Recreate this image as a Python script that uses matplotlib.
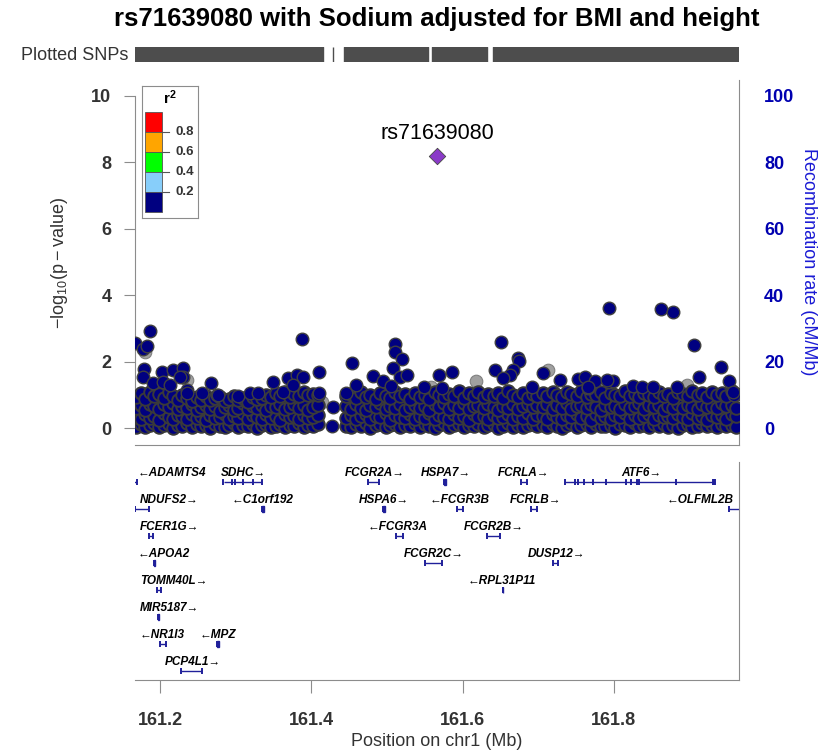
import matplotlib
matplotlib.use('Agg')
import matplotlib.pyplot as plt
from matplotlib.patches import Rectangle

plt.rcParams['font.family'] = ['Liberation Sans', 'DejaVu Sans']
plt.rcParams['mathtext.fontset'] = 'custom'
plt.rcParams['mathtext.rm'] = 'Liberation Sans'
plt.rcParams['mathtext.bf'] = 'Liberation Sans:bold'

# ---------------- data ----------------
title = 'rs71639080 with Sodium adjusted for BMI and height'
lead_name = 'rs71639080'
lead_pos = 161.566
lead_logp = 8.19

# dense band of SNPs (positions in Mb, several -log10 p per column)
band_pos = [161.168, 161.174, 161.180, 161.186, 161.192, 161.198, 161.205, 161.211, 161.217, 161.223,
            161.229, 161.235, 161.242, 161.248, 161.254, 161.260, 161.266, 161.272, 161.279, 161.285,
            161.291, 161.297, 161.303, 161.309, 161.316, 161.322, 161.328, 161.334, 161.340, 161.346,
            161.353, 161.359, 161.365, 161.371, 161.377, 161.383, 161.390, 161.396, 161.402, 161.408,
            161.446, 161.452, 161.459, 161.465, 161.472, 161.478, 161.485, 161.491, 161.498, 161.504,
            161.511, 161.517, 161.524, 161.530, 161.537, 161.543, 161.550, 161.556, 161.563, 161.569,
            161.576, 161.582, 161.589, 161.595, 161.602, 161.608, 161.615, 161.621, 161.628, 161.634,
            161.641, 161.647, 161.654, 161.660, 161.667, 161.673, 161.680, 161.686, 161.693, 161.699,
            161.706, 161.712, 161.719, 161.725, 161.732, 161.738, 161.744, 161.751, 161.757, 161.764,
            161.770, 161.776, 161.783, 161.789, 161.796, 161.802, 161.808, 161.815, 161.821, 161.828,
            161.834, 161.840, 161.847, 161.853, 161.860, 161.866, 161.872, 161.879, 161.885, 161.892,
            161.898, 161.904, 161.911, 161.917, 161.924, 161.930, 161.936, 161.943, 161.949, 161.956,
            161.962]
band_low = [0.05, 0.12, 0.03, 0.10, 0.16, 0.04, 0.09, 0.14, 0.02, 0.11, 0.07, 0.15, 0.03, 0.12, 0.06,
            0.10, 0.02, 0.13, 0.08, 0.04, 0.11, 0.15, 0.03, 0.09, 0.06, 0.12, 0.02, 0.10, 0.14, 0.05,
            0.08, 0.13, 0.03, 0.11, 0.07, 0.16, 0.04, 0.10, 0.06, 0.12,
            0.08, 0.03, 0.12, 0.06, 0.15, 0.02, 0.10, 0.13, 0.05, 0.09, 0.14, 0.03, 0.11, 0.07, 0.16,
            0.04, 0.12, 0.08, 0.02, 0.10, 0.15, 0.05, 0.09, 0.13, 0.03, 0.11, 0.06, 0.14, 0.04, 0.10,
            0.12, 0.02, 0.08, 0.15, 0.05, 0.11, 0.03, 0.09, 0.13, 0.06,
            0.10, 0.04, 0.13, 0.07, 0.02, 0.11, 0.15, 0.05, 0.09, 0.12, 0.03, 0.14, 0.08, 0.06, 0.11,
            0.02, 0.13, 0.09, 0.04, 0.15, 0.07, 0.10, 0.03, 0.12, 0.06, 0.14, 0.05, 0.09, 0.02, 0.11,
            0.13, 0.04, 0.08, 0.15, 0.06, 0.10, 0.03, 0.12, 0.07, 0.09, 0.05]
band_mid = [0.35, 0.28, 0.42, 0.31, 0.38, 0.26, 0.45, 0.33, 0.29, 0.40, 0.36, 0.27, 0.44, 0.32, 0.38,
            0.25, 0.41, 0.30, 0.35, 0.43, 0.28, 0.37, 0.32, 0.46, 0.27, 0.39, 0.34, 0.29, 0.42, 0.31,
            0.36, 0.26, 0.44, 0.33, 0.38, 0.28, 0.41, 0.30, 0.35, 0.39,
            0.32, 0.40, 0.27, 0.36, 0.44, 0.29, 0.38, 0.33, 0.45, 0.26, 0.41, 0.35, 0.30, 0.43, 0.28,
            0.37, 0.32, 0.46, 0.27, 0.39, 0.34, 0.29, 0.42, 0.31, 0.36, 0.26, 0.44, 0.33, 0.38, 0.28,
            0.41, 0.30, 0.35, 0.43, 0.29, 0.37, 0.32, 0.45, 0.27, 0.40,
            0.36, 0.29, 0.42, 0.33, 0.27, 0.40, 0.35, 0.44, 0.30, 0.38, 0.26, 0.43, 0.32, 0.37, 0.28,
            0.41, 0.34, 0.46, 0.29, 0.39, 0.31, 0.36, 0.44, 0.27, 0.40, 0.33, 0.38, 0.30, 0.42, 0.35,
            0.28, 0.45, 0.32, 0.37, 0.26, 0.41, 0.34, 0.39, 0.29, 0.43, 0.36]
band_high = [0.62, 0.70, 0.55, 0.74, 0.66, 0.58, 0.72, 0.63, 0.76, 0.57, 0.68, 0.60, 0.73, 0.54, 0.65,
             0.71, 0.59, 0.67, 0.53, 0.64, 0.69, 0.56, 0.62, 0.75, 0.58, 0.66, 0.61, 0.70, 0.55, 0.68,
             0.63, 0.72, 0.57, 0.65, 0.74, 0.60, 0.69, 0.56, 0.64, 0.71,
             0.66, 0.58, 0.73, 0.62, 0.55, 0.70, 0.64, 0.77, 0.59, 0.68, 0.61, 0.74, 0.56, 0.65, 0.71,
             0.60, 0.67, 0.54, 0.72, 0.63, 0.76, 0.58, 0.69, 0.62, 0.75, 0.57, 0.66, 0.70, 0.60, 0.73,
             0.64, 0.56, 0.68, 0.61, 0.74, 0.59, 0.67, 0.72, 0.63, 0.70,
             0.64, 0.72, 0.58, 0.69, 0.62, 0.76, 0.57, 0.67, 0.71, 0.60, 0.74, 0.65, 0.55, 0.70, 0.63,
             0.68, 0.59, 0.73, 0.61, 0.66, 0.75, 0.58, 0.69, 0.64, 0.71, 0.56, 0.67, 0.62, 0.74, 0.60,
             0.70, 0.65, 0.57, 0.72, 0.63, 0.68, 0.61, 0.75, 0.66, 0.70, 0.62]
band_top = [0.95, 1.05, 0.88, 1.10, 0.98, 1.02, 0.92, 1.08, 0.96, 0.85, 1.00, 0.90, 0.82, 0.93, 0.86,
            0.98, 0.84, 0.90, 0.95, 0.83, 0.88, 0.97, 0.85, 0.92, 0.80, 0.94, 0.87, 0.91, 1.00, 0.95,
            1.05, 0.98, 1.08, 0.93, 1.02, 0.97, 1.10, 0.99, 1.04, 1.00,
            0.97, 1.04, 0.90, 1.08, 0.95, 1.00, 0.88, 1.06, 0.98, 0.92, 1.10, 0.96, 1.02, 0.89, 1.05,
            0.94, 1.00, 0.87, 1.08, 0.99, 0.93, 1.03, 0.96, 1.12, 0.91, 1.05, 0.98, 1.09, 0.94, 1.02,
            0.97, 1.07, 0.90, 1.11, 1.00, 0.95, 1.06, 0.92, 1.03, 0.98,
            1.05, 0.96, 1.10, 1.00, 0.93, 1.08, 1.02, 0.97, 1.12, 0.95, 1.04, 0.99, 1.09, 0.92, 1.06,
            1.01, 0.96, 1.13, 0.98, 1.03, 0.94, 1.07, 1.00, 0.95, 1.10, 0.97, 1.04, 0.91, 1.08, 1.02,
            0.96, 1.11, 0.99, 1.05, 0.93, 1.09, 1.00, 1.06, 0.97, 1.12, 1.03]

# SNPs standing out above the band (r2 < 0.2)
upper_pos = [161.167, 161.1864, 161.1767, 161.182, 161.1784, 161.1775, 161.2019, 161.2172, 161.2296,
             161.230, 161.2667, 161.2746, 161.3871, 161.3491, 161.369, 161.3805, 161.3884, 161.4104,
             161.4104, 161.4289, 161.4268, 161.4532, 161.4457, 161.4589, 161.5107, 161.5107, 161.5194,
             161.5083, 161.5172, 161.5268, 161.4818, 161.4943, 161.5048, 161.5489, 161.5691, 161.5856,
             161.5723, 161.7931, 161.8621, 161.8788, 161.9061, 161.6508, 161.9415, 161.6737, 161.6746,
             161.6429, 161.6671, 161.7068, 161.9132, 161.9529, 161.7289, 161.7531, 161.7619, 161.7752,
             161.7941, 161.7994, 161.8258, 161.8369, 161.8523, 161.8833, 161.7655, 161.9595,
             161.1907, 161.204, 161.2128, 161.2258, 161.2349, 161.2349, 161.2548, 161.2767, 161.3032,
             161.3187, 161.3297, 161.362, 161.376, 161.6627, 161.6538, 161.6914, 161.7663, 161.7906,
             161.9581]
upper_logp = [2.56, 2.92, 2.40, 2.47, 1.77, 1.55, 1.68, 1.75, 1.80,
              1.55, 1.37, 1.00, 2.70, 1.40, 1.51, 1.60, 1.55, 1.70,
              1.05, 0.65, 0.08, 1.97, 1.07, 1.29, 2.53, 2.30, 2.07,
              1.80, 1.55, 1.60, 1.58, 1.43, 1.27, 1.25, 1.60, 1.70,
              1.20, 3.63, 3.59, 3.50, 2.50, 2.60, 1.83, 2.10, 2.02,
              1.75, 1.75, 1.65, 1.53, 1.43, 1.45, 1.47, 1.53, 1.42,
              1.40, 1.43, 1.27, 1.23, 1.23, 1.25, 1.22, 1.00,
              1.35, 1.40, 1.30, 1.55, 1.15, 1.05, 1.05, 1.00, 0.97,
              1.05, 1.05, 1.10, 1.30, 1.60, 1.50, 1.25, 1.25, 1.45,
              1.10]

# SNPs with no r2 information (grey)
gray_pos = [161.180, 161.2349, 161.4135, 161.5578, 161.6177, 161.5515, 161.7126, 161.8965, 161.7906, 161.3319]
gray_logp = [2.30, 1.45, 0.80, 1.23, 1.42, 0.60, 1.75, 1.30, 0.75, 0.30]

# stretches covered by the "Plotted SNPs" bar
snp_bar_start = [161.1665, 161.4280, 161.4430, 161.5595, 161.6402]
snp_bar_end = [161.4155, 161.4290, 161.5542, 161.6323, 161.9657]

# r2 legend
r2_colors = ['#FF0000', '#FFA500', '#00FF00', '#87CEFA', '#000080']
r2_breaks = ['0.8', '0.6', '0.4', '0.2']

# genes
gene_names = ['ADAMTS4', 'SDHC', 'FCGR2A', 'HSPA7', 'FCRLA', 'ATF6',
              'NDUFS2', 'C1orf192', 'HSPA6', 'FCGR3B', 'FCRLB', 'OLFML2B',
              'FCER1G', 'FCGR3A', 'FCGR2B',
              'APOA2', 'FCGR2C', 'DUSP12',
              'TOMM40L', 'RPL31P11',
              'MIR5187',
              'NR1I3', 'MPZ',
              'PCP4L1']
gene_start = [161.154, 161.284, 161.475, 161.576, 161.677, 161.736,
              161.167, 161.334, 161.494, 161.593, 161.691, 161.953,
              161.185, 161.5115, 161.632,
              161.192, 161.5505, 161.719,
              161.1958, 161.6528,
              161.1975,
              161.1993, 161.2745,
              161.2275]
gene_end = [161.1685, 161.334, 161.4895, 161.578, 161.685, 161.934,
            161.185, 161.337, 161.4967, 161.6008, 161.698, 161.993,
            161.1905, 161.5205, 161.6495,
            161.1934, 161.5725, 161.7262,
            161.2011, 161.6538,
            161.1982,
            161.208, 161.2778,
            161.2556]
gene_strand = ['-', '+', '+', '+', '+', '+',
               '+', '-', '+', '-', '+', '-',
               '+', '-', '+',
               '-', '+', '+',
               '+', '-',
               '+',
               '-', '-',
               '+']
gene_row = [0, 0, 0, 0, 0, 0, 1, 1, 1, 1, 1, 1, 2, 2, 2, 3, 3, 3, 4, 4, 5, 6, 6, 7]
gene_label_x = [161.2155, 161.310, 161.4833, 161.578, 161.681, 161.836,
                161.2115, 161.335, 161.496, 161.596, 161.696, 161.9137,
                161.212, 161.514, 161.6415,
                161.205, 161.562, 161.724,
                161.2175, 161.652,
                161.2127,
                161.202, 161.2755,
                161.243]
atf6_exons = [161.7355, 161.7488, 161.7523, 161.761, 161.7721, 161.7897, 161.8158, 161.8224,
              161.8304, 161.8334, 161.8820, 161.9310, 161.9325, 161.934]
sdhc_exons = [161.2834, 161.2945, 161.2988, 161.3098, 161.3231, 161.3342]

x_ticks = [161.2, 161.4, 161.6, 161.8]
recomb_ticks = [0, 20, 40, 60, 80, 100]

# ---------------- figure ----------------
W, H = 834.0, 754.0
XLIM = (161.1665, 161.9657)
NAVY = '#000080'
FRAME = '#8c8c8c'
TXT = '#333333'
BLUE = '#0000b0'


def px_box(l, t, r, b):
    return [l / W, 1 - b / H, (r - l) / W, (b - t) / H]


fig = plt.figure(figsize=(W / 100, H / 100), dpi=100)

fig.text(437 / W, 1 - 19 / H, title, ha='center', va='center', fontsize=18.5, fontweight='bold')

# plotted SNPs bar
axb = fig.add_axes(px_box(135, 47, 739, 62))
axb.broken_barh([(s, e - s) for s, e in zip(snp_bar_start, snp_bar_end)], (0, 1), color='#4d4d4d')
axb.set_xlim(XLIM)
axb.set_ylim(0, 1)
axb.axis('off')
fig.text(128 / W, 1 - 55 / H, 'Plotted SNPs', ha='right', va='center', fontsize=13, color=TXT)

# association panel
ax = fig.add_axes(px_box(135, 80, 739, 445))
ax.set_xlim(XLIM)
ax.set_ylim(-0.5, 10.47)
ms = 82
ax.scatter(gray_pos, gray_logp, s=ms, c='#a0a0a0', edgecolors='#808080', linewidths=0.8, zorder=2)
for ys in (band_low, band_mid, band_high, band_top):
    ax.scatter(band_pos, ys, s=ms, c=NAVY, edgecolors='#3a3a3a', linewidths=1.4, zorder=3)
ax.scatter(upper_pos, upper_logp, s=ms, c=NAVY, edgecolors='#404040', linewidths=1.0, zorder=3)
ax.scatter([lead_pos], [lead_logp], s=70, marker='D', c='#8a3ac8', edgecolors='#444444',
           linewidths=0.6, zorder=5)
ax.text(lead_pos, lead_logp + 0.66, lead_name, ha='center', va='center', fontsize=15.5)

ax.set_xticks([])
ax.set_yticks([0, 2, 4, 6, 8, 10])
ax.spines['left'].set_bounds(0, 10)
ax.spines['top'].set_visible(False)
for sp in ax.spines.values():
    sp.set_color(FRAME)
ax.tick_params(axis='y', length=8, color=FRAME, pad=9, labelsize=13, labelcolor=TXT)
for lb in ax.get_yticklabels():
    lb.set_fontweight('bold')

ax2 = ax.twinx()
ax2.set_ylim(-5, 104.7)
ax2.set_yticks(recomb_ticks)
ax2.tick_params(axis='y', length=0, pad=18, labelsize=13, labelcolor=BLUE)
for lb in ax2.get_yticklabels():
    lb.set_fontweight('bold')
for sp in ax2.spines.values():
    sp.set_visible(False)

fig.text(60 / W, 1 - 263 / H, r'$\mathrm{-log_{10}(p-value)}$', rotation=90, ha='center',
         va='center', fontsize=13, color=TXT)
fig.text(808 / W, 1 - 262 / H, 'Recombination rate (cM/Mb)', rotation=270, ha='center',
         va='center', fontsize=13, color='#1a1ad4')

# r2 legend box
axl = fig.add_axes(px_box(142, 86, 198, 218))
axl.set_xlim(0, 56)
axl.set_ylim(132, 0)
axl.set_xticks([])
axl.set_yticks([])
for sp in axl.spines.values():
    sp.set_color(FRAME)
for i, col in enumerate(r2_colors):
    axl.add_patch(Rectangle((3, 26 + 20 * i), 17, 20, facecolor=col, edgecolor='#555555', lw=0.6))
for i, lab in enumerate(r2_breaks):
    yb = 46 + 20 * i
    axl.plot([20, 27], [yb, yb], color='#555555', lw=0.8)
    axl.text(33, yb, lab, ha='left', va='center', fontsize=9.5, fontweight='bold', color=TXT)
axl.text(28, 12, r'$\mathbf{r^2}$', ha='center', va='center', fontsize=11)

# gene panel
axg = fig.add_axes(px_box(135, 462, 739, 680))
axg.set_xlim(XLIM)
axg.set_ylim(7.65, -0.395)
GCOL = '#20209a'
for name, s, e, st, row, lx in zip(gene_names, gene_start, gene_end, gene_strand, gene_row, gene_label_x):
    yb = row + 0.33
    axg.plot([s, e], [yb, yb], color=GCOL, lw=1.0, solid_capstyle='butt', clip_on=True)
    if name == 'ATF6':
        ex = atf6_exons
    elif name == 'SDHC':
        ex = sdhc_exons
    else:
        ex = [s, e]
    axg.vlines(ex, yb - 0.11, yb + 0.11, color=GCOL, lw=1.4)
    if e - s < 0.004:
        axg.add_patch(Rectangle((s, yb - 0.11), e - s, 0.22, color=GCOL))
    lab = '\u2190' + name if st == '-' else name + '\u2192'
    axg.text(lx, row, lab, ha='center', va='center', fontsize=8.5, fontweight='bold',
             fontstyle='italic', family=['Liberation Sans', 'DejaVu Sans'])

axg.set_yticks([])
axg.set_xticks(x_ticks)
axg.set_xticklabels([f'{t:.1f}' for t in x_ticks])
axg.spines['top'].set_visible(False)
axg.spines['left'].set_visible(False)
for sp in axg.spines.values():
    sp.set_color(FRAME)
axg.tick_params(axis='x', length=9, color=FRAME, pad=14, labelsize=13, labelcolor=TXT)
for lb in axg.get_xticklabels():
    lb.set_fontweight('bold')
fig.text(437 / W, 1 - 741 / H, 'Position on chr1 (Mb)', ha='center', va='center', fontsize=13, color=TXT)

fig.savefig('out.png', dpi=100)
